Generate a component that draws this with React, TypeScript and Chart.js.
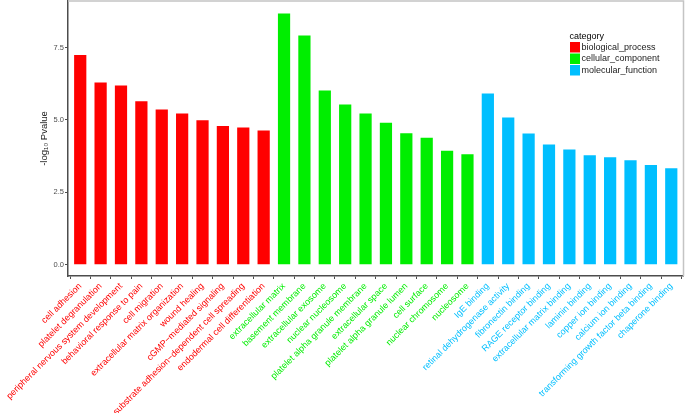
import React, { useEffect, useRef } from 'react';
import { Chart, registerables } from 'chart.js';

Chart.register(...registerables);

const bpTerms = [
  'cell adhesion',
  'platelet degranulation',
  'peripheral nervous system development',
  'behavioral response to pain',
  'cell migration',
  'extracellular matrix organization',
  'wound healing',
  'cGMP\u2212mediated signaling',
  'substrate adhesion\u2212dependent cell spreading',
  'endodermal cell differentiation',
];
const ccTerms = [
  'extracellular matrix',
  'basement membrane',
  'extracellular exosome',
  'nuclear nucleosome',
  'platelet alpha granule membrane',
  'extracellular space',
  'platelet alpha granule lumen',
  'cell surface',
  'nuclear chromosome',
  'nucleosome',
];
const mfTerms = [
  'IgE binding',
  'retinal dehydrogenase activity',
  'fibronectin binding',
  'RAGE receptor binding',
  'extracellular matrix binding',
  'laminin binding',
  'copper ion binding',
  'calcium ion binding',
  'transforming growth factor beta binding',
  'chaperone binding',
];
const bpValues = [7.24, 6.29, 6.19, 5.64, 5.36, 5.22, 4.99, 4.79, 4.74, 4.63];
const ccValues = [8.67, 7.91, 6.01, 5.53, 5.22, 4.9, 4.54, 4.38, 3.93, 3.81];
const mfValues = [5.91, 5.08, 4.53, 4.15, 3.98, 3.78, 3.71, 3.61, 3.44, 3.33];
const yTicks = [0, 2.5, 5.0, 7.5];
const categoryNames = ['biological_process', 'cellular_component', 'molecular_function'];
const categoryColors = ['#FF0000', '#00EE00', '#00BFFF'];

const FONT = '"Liberation Sans", Arial, Helvetica, sans-serif';

export default function App() {
  const ref = useRef<HTMLCanvasElement | null>(null);

  useEffect(() => {
    if (!ref.current) return;
    const groups = [bpTerms, ccTerms, mfTerms];
    const groupValues = [bpValues, ccValues, mfValues];
    const labels: string[] = [];
    const labelColors: string[] = [];
    groups.forEach((g, gi) => g.forEach((t) => { labels.push(t); labelColors.push(categoryColors[gi]); }));

    let offset = 0;
    const datasets = groupValues.map((vals, gi) => {
      const start = offset;
      offset += vals.length;
      return {
        label: categoryNames[gi],
        data: vals.map((v, i) => ({ x: start + i, y: v })),
        backgroundColor: categoryColors[gi],
        borderWidth: 0,
        grouped: false,
        barPercentage: 0.6,
        categoryPercentage: 1,
      };
    });

    const allValues = [...bpValues, ...ccValues, ...mfValues];
    const vmax = Math.max(...allValues);
    const yMax = vmax * 1.05;
    const yMin = -vmax * 0.045;

    const panelPlugin = {
      id: 'panelAndLegend',
      afterDraw(chart: any) {
        const { ctx, chartArea: a } = chart;
        ctx.save();
        ctx.strokeStyle = '#c4c4c4';
        ctx.lineWidth = 1.5;
        ctx.beginPath();
        ctx.moveTo(a.left, a.top);
        ctx.lineTo(a.right, a.top);
        ctx.lineTo(a.right, a.bottom);
        ctx.stroke();

        const lx = a.right - 114;
        const ly = a.top + 35.5;
        ctx.font = `9px ${FONT}`;
        ctx.textBaseline = 'middle';
        ctx.textAlign = 'left';
        ctx.fillStyle = '#000000';
        ctx.fillText('category', lx, ly);
        categoryNames.forEach((n, i) => {
          const y = ly + 5.5 + i * 11.5;
          ctx.fillStyle = categoryColors[i];
          ctx.fillRect(lx + 0.5, y, 10, 10.5);
          ctx.fillStyle = '#1a1a1a';
          ctx.fillText(n, lx + 12, y + 5.5);
        });
        ctx.restore();
      },
    };

    const chart = new Chart(ref.current, {
      type: 'bar',
      data: { datasets: datasets as any },
      options: {
        animation: false,
        responsive: false,
        maintainAspectRatio: false,
        layout: { padding: { top: 1, right: 1.5, left: 0, bottom: 0 } },
        plugins: { legend: { display: false }, tooltip: { enabled: false } },
        scales: {
          x: {
            type: 'linear',
            offset: false,
            min: -0.6,
            max: labels.length - 1 + 0.6,
            afterBuildTicks: (s: any) => {
              s.ticks = labels.map((_, i) => ({ value: i }));
            },
            afterFit: (s: any) => {
              s.height = 137;
              s.paddingLeft = 0;
              s.paddingRight = 0;
            },
            ticks: {
              autoSkip: false,
              maxRotation: 45,
              minRotation: 45,
              padding: 2,
              font: { size: 9, family: FONT },
              color: (c: any) => labelColors[c.index] ?? '#000',
              callback: (_v: any, i: number) => labels[i],
            },
            grid: { display: true, drawOnChartArea: false, drawTicks: true, tickLength: 3, color: '#4d4d4d' },
            border: { display: true, color: '#4d4d4d', width: 1.5 },
          },
          y: {
            type: 'linear',
            min: yMin,
            max: yMax,
            afterBuildTicks: (s: any) => {
              s.ticks = yTicks.map((v) => ({ value: v }));
            },
            afterFit: (s: any) => {
              s.width = 68;
              s.paddingTop = 0;
              s.paddingBottom = 0;
            },
            ticks: {
              padding: 1,
              font: { size: 7.5, family: FONT },
              color: '#4d4d4d',
              callback: (v: any) => Number(v).toFixed(1),
            },
            grid: { display: true, drawOnChartArea: false, drawTicks: true, tickLength: 3, color: '#4d4d4d' },
            border: { display: true, color: '#4d4d4d', width: 1.5 },
            title: {
              display: true,
              text: '-log\u2081\u2080 Pvalue',
              color: '#1a1a1a',
              font: { size: 9.5, family: FONT },
              padding: { top: 39, bottom: 0 },
            },
          },
        },
      },
      plugins: [panelPlugin],
    });
    return () => chart.destroy();
  }, []);

  return (
    <div style={{ position: 'fixed', left: 0, top: 0, width: 685, height: 413, background: '#ffffff' }}>
      <canvas ref={ref} width={685} height={413} style={{ width: 685, height: 413, display: 'block' }} />
    </div>
  );
}
